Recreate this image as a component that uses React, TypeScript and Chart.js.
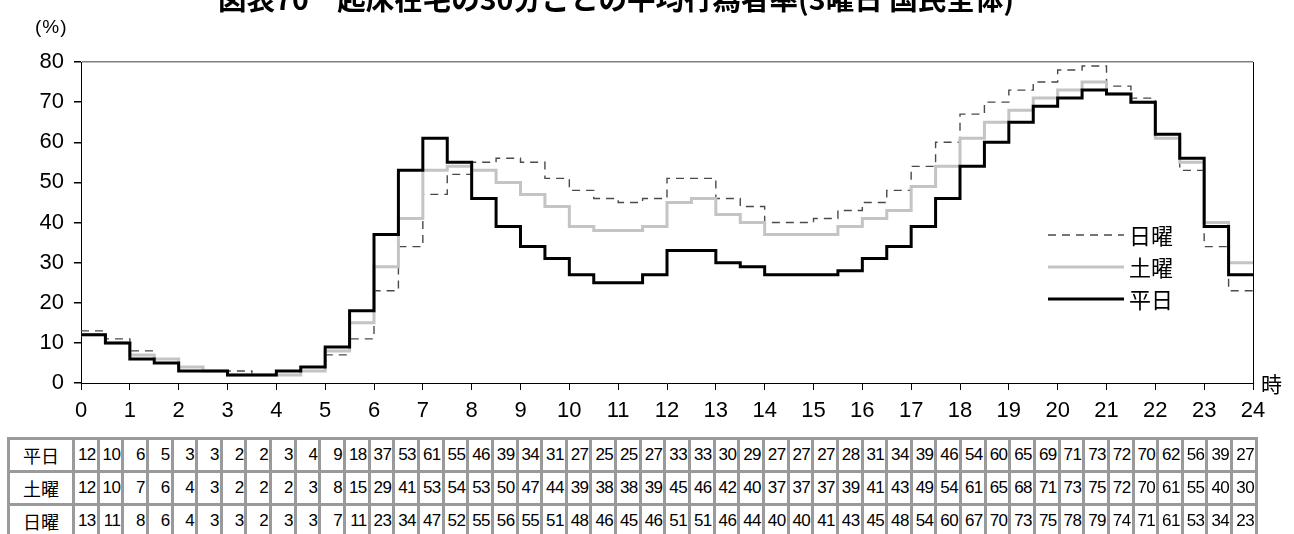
import React, { useEffect, useRef } from "react";
import { Chart, registerables } from "chart.js";

Chart.register(...registerables);

const TITLE = "図表70　起床在宅の30分ごとの平均行為者率(3曜日 国民全体)";
const Y_UNIT = "(%)";
const X_UNIT = "時";

const seriesNames = ["平日", "土曜", "日曜"];

const weekday = [12, 10, 6, 5, 3, 3, 2, 2, 3, 4, 9, 18, 37, 53, 61, 55, 46, 39, 34, 31, 27, 25, 25, 27, 33, 33, 30, 29, 27, 27, 27, 28, 31, 34, 39, 46, 54, 60, 65, 69, 71, 73, 72, 70, 62, 56, 39, 27];
const saturday = [12, 10, 7, 6, 4, 3, 2, 2, 2, 3, 8, 15, 29, 41, 53, 54, 53, 50, 47, 44, 39, 38, 38, 39, 45, 46, 42, 40, 37, 37, 37, 39, 41, 43, 49, 54, 61, 65, 68, 71, 73, 75, 72, 70, 61, 55, 40, 30];
const sunday = [13, 11, 8, 6, 4, 3, 3, 2, 3, 3, 7, 11, 23, 34, 47, 52, 55, 56, 55, 51, 48, 46, 45, 46, 51, 51, 46, 44, 40, 40, 41, 43, 45, 48, 54, 60, 67, 70, 73, 75, 78, 79, 74, 71, 61, 53, 34, 23];

const xTicks = Array.from({ length: 25 }, (_, i) => i);
const yTicks = [0, 10, 20, 30, 40, 50, 60, 70, 80];

const tableRows = [
  { name: "平日", values: weekday },
  { name: "土曜", values: saturday },
  { name: "日曜", values: sunday },
];

const styles = [
  { color: "#000000", width: 3, dash: [] as number[] },
  { color: "#c4c4c4", width: 3, dash: [] as number[] },
  { color: "#4a4a4a", width: 1.4, dash: [8, 6] },
];

function toSteps(values: number[]) {
  const pts = values.map((v, i) => ({ x: i * 0.5, y: v }));
  pts.push({ x: values.length * 0.5, y: values[values.length - 1] });
  return pts;
}

const legendPlugin = {
  id: "customLegend",
  afterDraw(chart: any) {
    const ctx = chart.ctx;
    const items = [
      { name: seriesNames[2], s: styles[2], y: 235 },
      { name: seriesNames[1], s: styles[1], y: 267 },
      { name: seriesNames[0], s: styles[0], y: 299 },
    ];
    ctx.save();
    items.forEach((it) => {
      ctx.beginPath();
      ctx.strokeStyle = it.s.color;
      ctx.lineWidth = it.s.width;
      ctx.setLineDash(it.s.dash);
      ctx.moveTo(1048, it.y);
      ctx.lineTo(1124, it.y);
      ctx.stroke();
      ctx.setLineDash([]);
      ctx.fillStyle = "#000";
      ctx.font = '22px "Noto Sans CJK JP"';
      ctx.textBaseline = "middle";
      ctx.textAlign = "left";
      ctx.fillText(it.name, 1129, it.y + 1);
    });
    ctx.restore();
  },
};

function ChartCanvas() {
  const ref = useRef<HTMLCanvasElement>(null);
  useEffect(() => {
    if (!ref.current) return;
    const datasets = [weekday, saturday, sunday].map((vals, i) => ({
      label: seriesNames[i],
      data: toSteps(vals),
      stepped: true as const,
      borderColor: styles[i].color,
      borderWidth: styles[i].width,
      borderDash: styles[i].dash,
      pointRadius: 0,
      fill: false,
      borderCapStyle: "butt" as const,
    }));
    const chart = new Chart(ref.current, {
      type: "line",
      data: { datasets },
      plugins: [legendPlugin],
      options: {
        responsive: false,
        animation: false,
        devicePixelRatio: 1,
        layout: { padding: { left: 0, top: 62, right: 41, bottom: 0 } },
        plugins: { legend: { display: false }, tooltip: { enabled: false }, title: { display: false } },
        scales: {
          x: {
            type: "linear",
            min: 0,
            max: 24,
            afterBuildTicks: (s: any) => {
              s.ticks = xTicks.map((v) => ({ value: v }));
            },
            afterFit: (s: any) => {
              s.height = 47;
            },
            ticks: {
              color: "#000",
              font: { family: "Liberation Sans", size: 22 },
              padding: 8,
              maxRotation: 0,
              autoSkip: false,
            },
            grid: {
              color: (c: any) => (c.tick && c.tick.value === 24 ? "#000" : "rgba(0,0,0,0)"),
              tickColor: "#000",
              tickLength: 7,
              lineWidth: 1,
            },
            border: { color: "#000", width: 1 },
          },
          y: {
            min: 0,
            max: 80,
            afterBuildTicks: (s: any) => {
              s.ticks = yTicks.map((v) => ({ value: v }));
            },
            afterFit: (s: any) => {
              s.width = 81;
            },
            ticks: {
              color: "#000",
              font: { family: "Liberation Sans", size: 22 },
              padding: 10,
            },
            grid: {
              color: (c: any) => (c.tick && c.tick.value === 80 ? "#808080" : "rgba(0,0,0,0)"),
              tickColor: "#000",
              tickLength: 7,
              lineWidth: 1.5,
            },
            border: { color: "#000", width: 1 },
          },
        },
      },
    });
    return () => chart.destroy();
  }, []);
  return <canvas ref={ref} width={1294} height={430} style={{ position: "absolute", left: 0, top: 0, width: 1294, height: 430 }} />;
}

export default function App() {
  return (
    <div style={{ position: "fixed", left: 0, top: 0, width: 1294, height: 534, overflow: "hidden", background: "#fff" }}>
      <ChartCanvas />
      <div
        style={{
          position: "absolute",
          left: 0,
          width: 1232,
          top: -18,
          textAlign: "center",
          font: 'bold 28.5px "Noto Sans CJK JP"',
          lineHeight: "32px",
          whiteSpace: "nowrap",
          color: "#000",
        }}
      >
        {TITLE}
      </div>
      <div style={{ position: "absolute", left: 35, top: 15, font: '19px "Liberation Sans"', lineHeight: "24px", color: "#000", letterSpacing: 1 }}>{Y_UNIT}</div>
      <div style={{ position: "absolute", left: 1261, top: 369, font: '21px "Noto Sans CJK JP"', lineHeight: "28px", color: "#000" }}>{X_UNIT}</div>
      <table
        style={{
          position: "absolute",
          left: 7,
          top: 437,
          width: 1251,
          tableLayout: "fixed",
          borderCollapse: "separate",
          borderSpacing: 3,
          background: "#9a9a9a",
        }}
      >
        <colgroup>
          <col style={{ width: 62 }} />
          {weekday.map((_, i) => (
            <col key={i} />
          ))}
        </colgroup>
        <tbody>
          {tableRows.map((r) => (
            <tr key={r.name}>
              <td
                style={{
                  background: "#fff",
                  height: 30,
                  padding: 0,
                  textAlign: "center",
                  font: '18px "Noto Sans CJK JP"',
                }}
              >
                {r.name}
              </td>
              {r.values.map((v, i) => (
                <td
                  key={i}
                  style={{
                    background: "#fff",
                    height: 30,
                    padding: "0 1px 0 0",
                    textAlign: "right",
                    font: '17px "Liberation Sans"',
                    letterSpacing: -0.6,
                    overflow: "hidden",
                  }}
                >
                  {v}
                </td>
              ))}
            </tr>
          ))}
        </tbody>
      </table>
    </div>
  );
}
